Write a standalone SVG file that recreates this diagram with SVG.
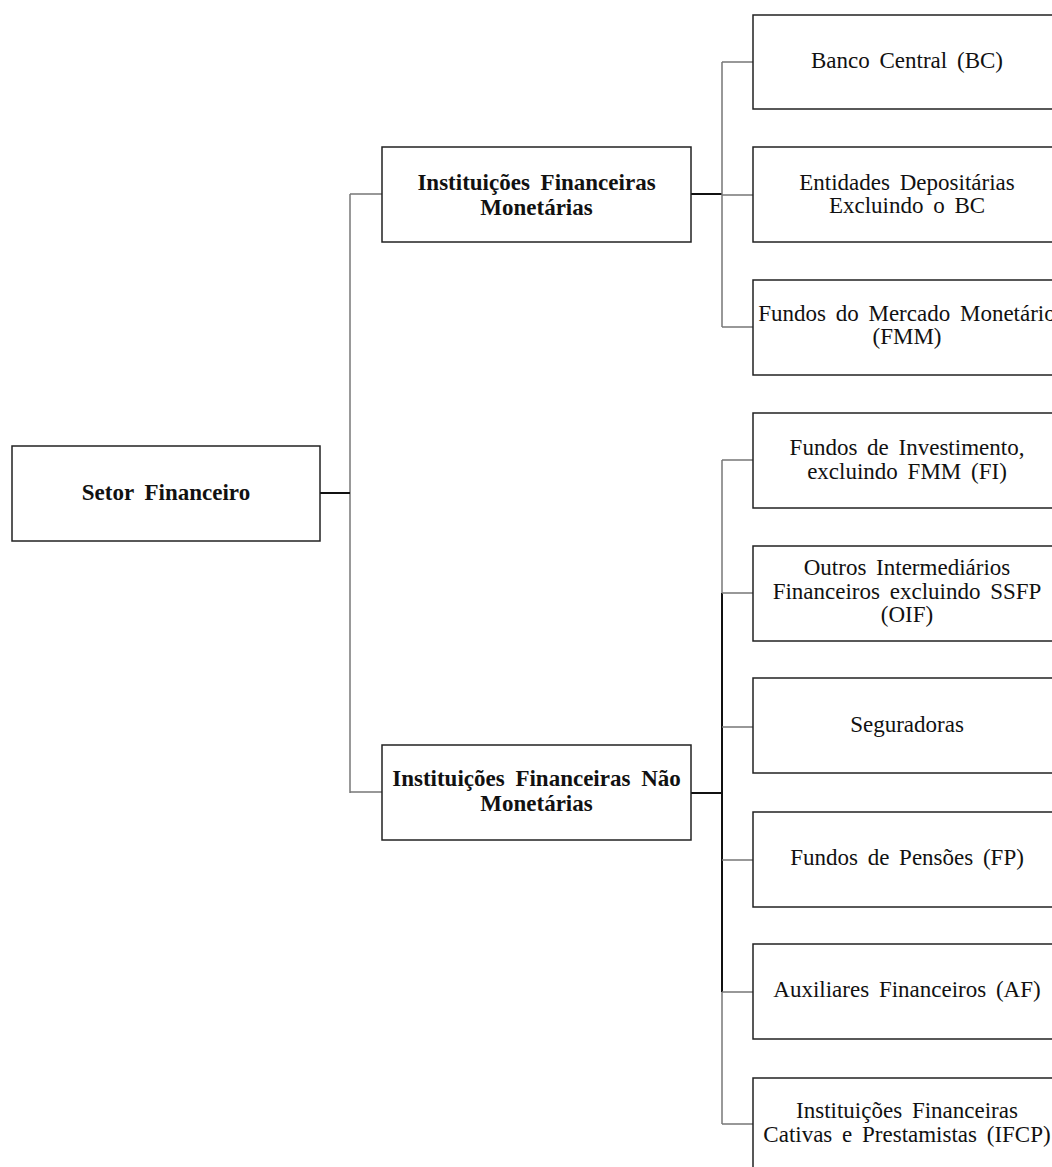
<svg xmlns="http://www.w3.org/2000/svg" width="1052" height="1167" viewBox="0 0 1052 1167">
<style>
.box{fill:#fff;stroke:#222;stroke-width:1.5}
.t{font-family:"Liberation Serif","Times New Roman",serif;font-size:23px;fill:#111;text-anchor:middle;word-spacing:4px}
.b{font-weight:bold;word-spacing:5px}
.c{fill:none;stroke:#777;stroke-width:1.5}
.k{fill:none;stroke:#111;stroke-width:2}
</style>
<rect width="1052" height="1167" fill="#fff"/>
<g id="connectors">
<path class="c" d="M350 194V793"/>
<path class="k" d="M320 493H350"/>
<path class="c" d="M350 194H382M350 792H382"/>
<path class="k" d="M691 194H722M691 793H722"/>
<path class="c" d="M722 62V327M722 62H753M722 195H753M722 327H753"/>
<path class="c" d="M722 460V1124"/>
<path class="k" d="M722 593V992"/>
<path class="c" d="M722 460H753M722 593H753M722 727H753M722 860H753M722 992H753M722 1124H753"/>
</g>
<g id="setor"><rect class="box" x="12" y="446" width="308" height="95"/><text class="t b" x="166" y="500">Setor Financeiro</text></g>
<g id="ifm"><rect class="box" x="382" y="147" width="309" height="95"/><text class="t b" x="536.5" y="190">Instituições Financeiras</text><text class="t b" x="536.5" y="215">Monetárias</text></g>
<g id="ifnm"><rect class="box" x="382" y="745" width="309" height="95"/><text class="t b" x="536.5" y="786">Instituições Financeiras Não</text><text class="t b" x="536.5" y="811">Monetárias</text></g>
<g id="bc"><rect class="box" x="753" y="15" width="310" height="94"/><text class="t" x="907" y="68">Banco Central (BC)</text></g>
<g id="ed"><rect class="box" x="753" y="147" width="310" height="95"/><text class="t" x="907" y="190">Entidades Depositárias</text><text class="t" x="907" y="213">Excluindo o BC</text></g>
<g id="fmm"><rect class="box" x="753" y="280" width="310" height="95"/><text class="t" x="907" y="321">Fundos do Mercado Monetário</text><text class="t" x="907" y="344">(FMM)</text></g>
<g id="fi"><rect class="box" x="753" y="413" width="310" height="95"/><text class="t" x="907" y="455">Fundos de Investimento,</text><text class="t" x="907" y="479">excluindo FMM (FI)</text></g>
<g id="oif"><rect class="box" x="753" y="546" width="310" height="95"/><text class="t" x="907" y="575">Outros Intermediários</text><text class="t" x="907" y="599">Financeiros excluindo SSFP</text><text class="t" x="907" y="622">(OIF)</text></g>
<g id="seg"><rect class="box" x="753" y="678" width="310" height="95"/><text class="t" x="907" y="732">Seguradoras</text></g>
<g id="fp"><rect class="box" x="753" y="812" width="310" height="95"/><text class="t" x="907" y="865">Fundos de Pensões (FP)</text></g>
<g id="af"><rect class="box" x="753" y="944" width="310" height="95"/><text class="t" x="907" y="997">Auxiliares Financeiros (AF)</text></g>
<g id="ifcp"><rect class="box" x="753" y="1078" width="310" height="95"/><text class="t" x="907" y="1118">Instituições Financeiras</text><text class="t" x="907" y="1142">Cativas e Prestamistas (IFCP)</text></g>
</svg>
